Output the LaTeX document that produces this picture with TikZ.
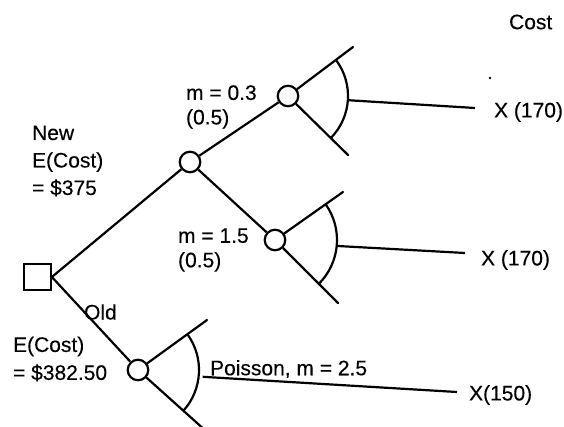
\documentclass[tikz,border=0pt]{standalone}
\usepackage{fontspec}
\setmainfont{Liberation Sans}
\newfontfamily\labelfont[FakeBold=0.25]{Liberation Sans}
\begin{document}
\begin{tikzpicture}[x=1pt, y=-1pt, line width=2.2pt,
  lbl/.style={inner sep=0pt, anchor=west, align=left,
              font=\labelfont\fontsize{21}{24.5}\selectfont},
  chance/.style={circle, draw, minimum size=20.5pt, inner sep=0pt},
  decision/.style={rectangle, draw, minimum size=26.5pt, inner sep=0pt},
  fan/.style={line cap=round}]
  \useasboundingbox (0,0) rectangle (564,427);
  \clip (0,0) rectangle (564,427);

  % decision and chance nodes
  \node[decision] (sq) at (37.5,277) {};
  \node[chance] (c0) at (190,162) {};
  \node[chance] (c1) at (288,96) {};
  \node[chance] (c2) at (275,240) {};
  \node[chance] (c3) at (138,370) {};

  % main branches
  \draw (sq.east) -- (c0);
  \draw (sq.east) -- (c3);
  \draw (c0) -- (c1);
  \draw (c0) -- (c2);

  % fan ends
  \coordinate (u1) at (353,47);  \coordinate (l1) at (348,155);
  \coordinate (u2) at (343,192); \coordinate (l2) at (338,303);
  \coordinate (u3) at (207,320); \coordinate (l3) at (216,440);
  \draw[fan] (c1) -- (u1);
  \draw[fan] (c1) -- (l1);
  \draw[fan] (c2) -- (u2);
  \draw[fan] (c2) -- (l2);
  \draw[fan] (c3) -- (u3);
  \draw[fan] (c3) -- (l3);

  % distribution arcs
  \draw (c1.center) ++(-37:60) arc[start angle=-37, end angle=44.5, radius=60];
  \draw (c2.center) ++(-35:62) arc[start angle=-35, end angle=45, radius=62];
  \draw (c3.center) ++(-36:61) arc[start angle=-36, end angle=42, radius=61];

  % outcome lines
  \path (c1.center) ++(4:60) coordinate (h1);
  \path (c2.center) ++(5.5:62) coordinate (h2);
  \path (c3.center) ++(6:65) coordinate (h3);
  \coordinate (e1) at (475,108);
  \coordinate (e2) at (465,253);
  \coordinate (e3) at (457,392);
  \draw (h1) -- (e1);
  \draw (h2) -- (e2);
  \draw (h3) -- (e3);

  % labels
  \node[lbl] (tcost) at (508,22) {Cost};
  \node[lbl, font=\labelfont\fontsize{21}{27.5}\selectfont] (tnew) at (31,161)
       {New\\E(Cost)\\= \$375};
  \node[lbl] (tm1) at (185,107) {m = 0.3\\(0.5)};
  \node[lbl] (tm2) at (177,250) {m = 1.5\\(0.5)};
  \node[lbl] (told) at (83,312) {Old};
  \node[lbl, font=\labelfont\fontsize{21}{28}\selectfont] (tecold) at (12,359)
       {E(Cost)\\= \$382.50};
  \node[lbl] (tpois) at (209,369) {Poisson, m = 2.5};
  \node[lbl] (x1) at (493,112) {X (170)};
  \node[lbl] (x2) at (480,260) {X (170)};
  \node[lbl] (x3) at (468,395) {X(150)};

  \fill (490,78) circle (1.3pt);
\end{tikzpicture}
\end{document}
